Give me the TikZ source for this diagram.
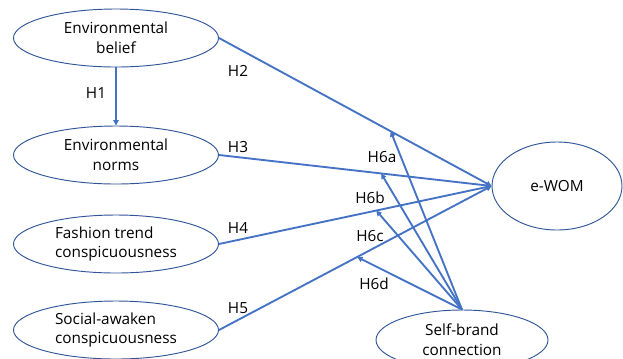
\documentclass[tikz,border=0pt]{standalone}
\usepackage{fontspec}
\setmainfont{Open Sans}
\usepackage{tikz}
\usetikzlibrary{positioning,arrows.meta,shapes.geometric}
\definecolor{linkblue}{HTML}{4472C4}
\definecolor{rimblue}{HTML}{2F5597}
\tikzset{
  construct/.style={ellipse,draw=rimblue,line width=0.7pt,inner sep=0pt,
    minimum width=205*0.75pt,minimum height=58*0.75pt,align=center,
    font=\fontsize{11.5}{14.8}\selectfont},
  path/.style={draw=linkblue,line width=1.4pt,-{Triangle[length=4pt,width=4pt]}},
  hyp/.style={font=\fontsize{11.5}{13}\selectfont}
}
\begin{document}
\begin{tikzpicture}[x=0.75pt,y=-0.75pt]
\useasboundingbox (0,0) rectangle (623,358);
% ---- constructs ----
\node[construct] (belief) at (116,38) {Environmental\\belief};
\node[construct] (norms) at (116,155) {Environmental\\norms};
\node[construct,align=left] (trend) at (116,244) {Fashion trend\\conspicuousness};
\node[construct,align=left] (social) at (116,330) {Social-awaken\\conspicuousness};
\node[construct,minimum width=130*0.75pt,minimum height=88*0.75pt] (ewom) at (557,186) {e-WOM};
\node[construct,minimum width=172*0.75pt,minimum height=60*0.75pt] (selfbrand) at (462,340) {Self-brand\\connection};
% ---- direct paths ----
\draw[path] (belief) -- (norms);
\draw[path] (belief.east) -- coordinate[pos=0.63] (h6a) (ewom.west);
\draw[path] (norms.east) -- coordinate[pos=0.595] (h6b) (ewom.west);
\draw[path] (trend.east) -- coordinate[pos=0.577] (h6c) (ewom.west);
\draw[path] (social.east) -- coordinate[pos=0.507] (h6d) (ewom.west);
% ---- moderating paths ----
\foreach \m in {h6a,h6b,h6c,h6d} {\draw[path] (selfbrand.north) -- (\m);}
% ---- labels ----
\node[hyp] (l1) at (96,93) {H1};
\node[hyp] (l2) at (238,71) {H2};
\node[hyp] (l3) at (238,147) {H3};
\node[hyp] (l4) at (238,228) {H4};
\node[hyp] (l5) at (238,308) {H5};
\node[hyp] (l6a) at (382,157) {H6a};
\node[hyp] (l6b) at (370,198) {H6b};
\node[hyp] (l6c) at (370,236) {H6c};
\node[hyp] (l6d) at (374,284) {H6d};
\end{tikzpicture}
\end{document}
